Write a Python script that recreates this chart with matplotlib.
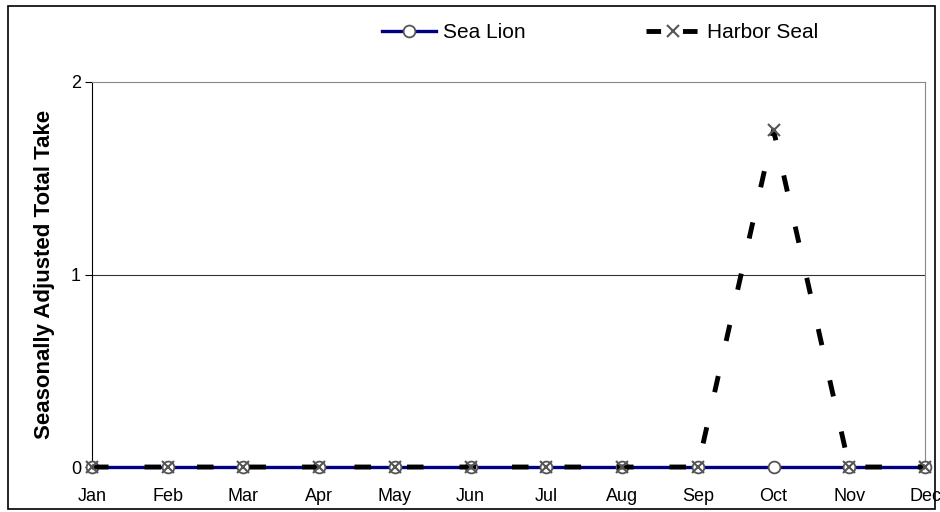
import matplotlib.pyplot as plt
from matplotlib.patches import Rectangle

plt.rcParams['font.family'] = ['Liberation Sans', 'DejaVu Sans']

months = ['Jan', 'Feb', 'Mar', 'Apr', 'May', 'Jun', 'Jul', 'Aug', 'Sep', 'Oct', 'Nov', 'Dec']
sea_lion = [0, 0, 0, 0, 0, 0, 0, 0, 0, 0, 0, 0]
harbor_seal = [0, 0, 0, 0, 0, 0, 0, 0, 0, 1.75, 0, 0]

fig = plt.figure(figsize=(9.4, 5.12), dpi=100)
ax = fig.add_axes([92 / 940, 1 - 467 / 512, (925 - 92) / 940, (467 - 82) / 512])

x = list(range(len(months)))
ax.plot(x, sea_lion, color='#000080', lw=2.4, marker='o', ms=8.5,
        mfc='white', mec='#555555', mew=1.3, label='Sea Lion', zorder=3, clip_on=False)
ax.plot(x, harbor_seal, color='black', lw=3.5, dashes=(3.4, 7.4), marker='x', ms=8.5,
        mec='#555555', mew=1.5, label='Harbor Seal', zorder=4, clip_on=False)

ax.set_xlim(0, 11)
ax.set_ylim(0, 2)
ax.set_yticks([0, 1, 2])
ax.set_xticks(x)
ax.set_xticklabels(months, fontsize=13)
ax.tick_params(axis='x', length=0, pad=15)
ax.tick_params(axis='y', length=5, labelsize=13, pad=3)
ax.axhline(1, color='#333333', lw=0.8, zorder=1)
for side in ['top', 'right']:
    ax.spines[side].set_color('#888888')
ax.spines['bottom'].set_visible(False)
ax.spines['left'].set_color('black')

ax.set_ylabel('Seasonally Adjusted Total Take', fontsize=16, fontweight='bold')
ax.yaxis.set_label_coords(-37 / 833, 0.5)

leg = fig.legend(loc='center', bbox_to_anchor=(600 / 940, 1 - 33 / 512), ncol=2, frameon=False,
                 fontsize=15, handlelength=2.6, handletextpad=0.3, columnspacing=5.8)
leg.legend_handles[1].set_dashes((3, 4.5))

fig.patches.append(Rectangle((8 / 940, 1 - 509 / 512), 927 / 940, 503 / 512,
                             transform=fig.transFigure, fill=False, ec='black', lw=1.2))

fig.savefig('out.png', dpi=100)
